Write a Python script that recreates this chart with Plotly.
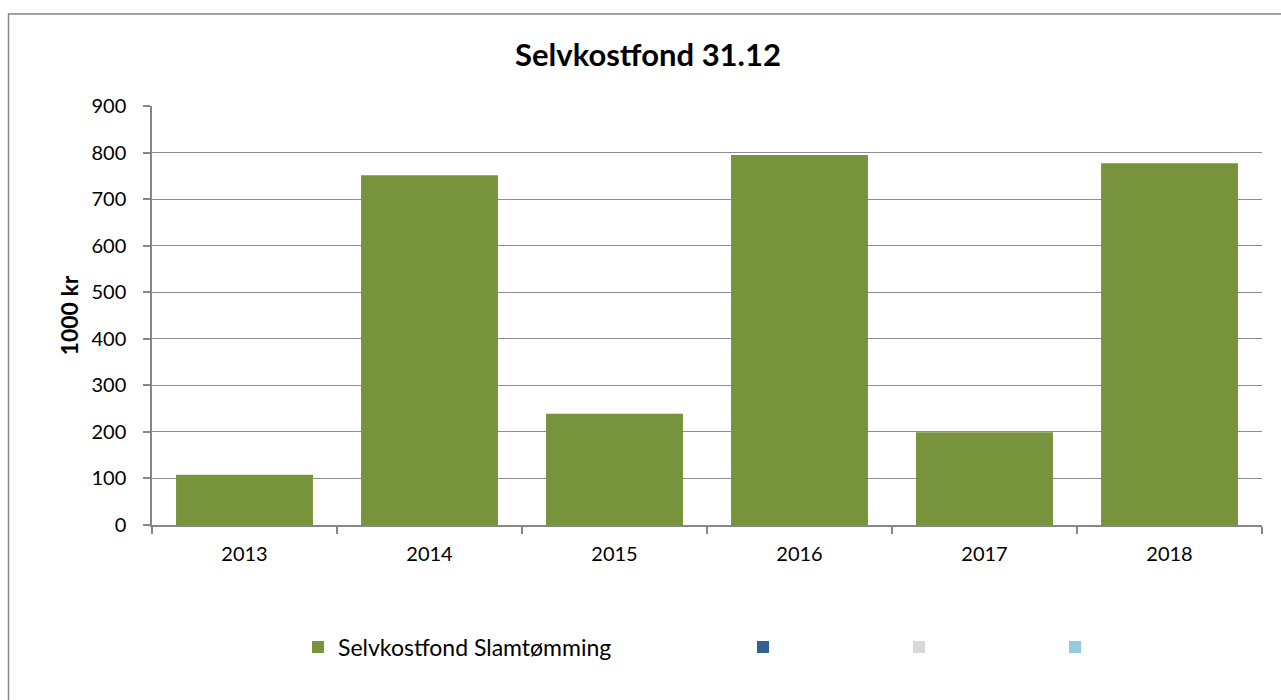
import plotly.graph_objects as go

years = ["2013", "2014", "2015", "2016", "2017", "2018"]
fond = [108, 751, 239, 795, 199, 777]
series_name = "Selvkostfond Slamtømming"
empty_colors = ["#376092", "#D9D9D9", "#93CDDD"]
title_text = "Selvkostfond 31.12"
y_title = "1000 kr"

FONT = "Lato"
W, H = 1281, 700
L, R, T, B = 152, 1262, 106, 525

fig = go.Figure()
fig.add_trace(go.Bar(x=years, y=fond, name=series_name, marker=dict(color="#77933C", line=dict(width=0)),
                     legend="legend", showlegend=True))
for i, c in enumerate(empty_colors):
    fig.add_trace(go.Bar(x=years, y=[None] * len(years), name="", marker=dict(color=c, line=dict(width=0)),
                         legend="legend%d" % (i + 2), showlegend=True))

def px_x(p):
    return (p - L) / (R - L)

def px_y(p):
    return (B - p) / (B - T)

leg_y = px_y(647)
leg_common = dict(orientation="h", yanchor="middle", y=leg_y, xanchor="left", visible=True,
                  font=dict(family=FONT, size=23, color="#000000"), bgcolor="rgba(0,0,0,0)",
                  traceorder="normal")

fig.update_layout(
    width=W, height=H,
    showlegend=True,
    margin=dict(l=L, r=W - R, t=T, b=H - B),
    paper_bgcolor="white", plot_bgcolor="white",
    barmode="overlay", bargap=0.26,
    title=dict(text="<b>%s</b>" % title_text, x=648 / W, xanchor="center", xref="container",
               y=1 - 55 / H, yanchor="middle", yref="container",
               font=dict(family=FONT, size=31, color="#000000")),
    xaxis=dict(type="category", showgrid=False, showline=True, linecolor="#868686", linewidth=1.5,
               ticks="outside", tickson="boundaries", ticklen=7, tickcolor="#868686", tickwidth=1.5,
               ticklabelstandoff=10,
               tickfont=dict(family=FONT, size=20, color="#000000")),
    yaxis=dict(range=[0, 900], dtick=100, showgrid=True, gridcolor="#8C8C8C", gridwidth=1,
               showline=True, linecolor="#868686", linewidth=1.5, zeroline=False,
               ticks="outside", ticklen=7, tickcolor="#868686", tickwidth=1.5,
               ticklabelstandoff=13,
               tickfont=dict(family=FONT, size=20, color="#000000")),
    legend=dict(x=px_x(298), **leg_common),
    legend2=dict(x=px_x(743), **leg_common),
    legend3=dict(x=px_x(899), **leg_common),
    legend4=dict(x=px_x(1055), **leg_common),
    shapes=[dict(type="rect", xref="paper", yref="paper",
                 x0=px_x(8.5), x1=px_x(1295), y0=px_y(715), y1=px_y(14),
                 line=dict(color="#878787", width=1.5), fillcolor="rgba(0,0,0,0)", layer="below")],
)
fig.update_yaxes(title=dict(text="<b>%s</b>" % y_title, standoff=6,
                            font=dict(family=FONT, size=23, color="#000000")))

fig.write_html("out.html")
